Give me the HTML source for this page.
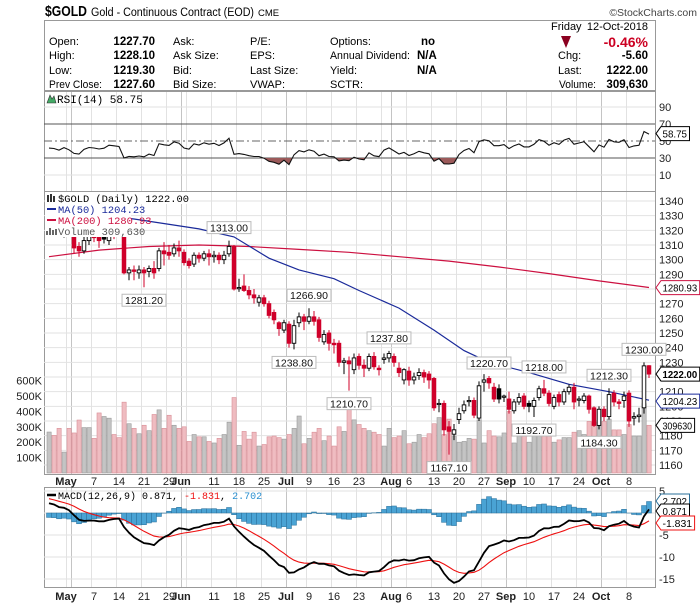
<!DOCTYPE html>
<html><head><meta charset="utf-8"><style>
body{margin:0;background:#fff;}
svg{display:block;font-family:"Liberation Sans",sans-serif;}
</style></head><body>
<svg id="c" width="700" height="603" viewBox="0 0 700 603" xmlns="http://www.w3.org/2000/svg">
<g>
<text x="45" y="16" font-size="15" font-weight="bold" textLength="42" lengthAdjust="spacingAndGlyphs">$GOLD</text>
<text x="91" y="16" font-size="11.5" textLength="163" lengthAdjust="spacingAndGlyphs">Gold - Continuous Contract (EOD)</text>
<text x="258" y="16" font-size="9.5">CME</text>
<text x="697" y="16" font-size="10.5" fill="#444" text-anchor="end">©StockCharts.com</text>
<rect x="44.5" y="20.5" width="611" height="70" fill="none" stroke="#999"/>
<g font-size="11">
<text x="49" y="45">Open:</text><text x="49" y="59">High:</text><text x="49" y="74">Low:</text><text x="49" y="88" textLength="53" lengthAdjust="spacingAndGlyphs">Prev Close:</text>
<g font-weight="bold" text-anchor="end" font-size="11.5"><text x="155" y="45">1227.70</text><text x="155" y="59">1228.10</text><text x="155" y="74">1219.30</text><text x="155" y="88">1227.60</text></g>
<text x="173" y="45">Ask:</text><text x="173" y="59">Ask Size:</text><text x="173" y="74">Bid:</text><text x="173" y="88">Bid Size:</text>
<text x="250" y="45">P/E:</text><text x="250" y="59">EPS:</text><text x="250" y="74">Last Size:</text><text x="250" y="88">VWAP:</text>
<text x="330" y="45">Options:</text><text x="330" y="59" textLength="80" lengthAdjust="spacingAndGlyphs">Annual Dividend:</text><text x="330" y="74">Yield:</text><text x="330" y="88">SCTR:</text>
<g font-weight="bold" font-size="11.5"><text x="435" y="45" text-anchor="end">no</text><text x="417" y="59">N/A</text><text x="417" y="74">N/A</text></g>
<text x="551" y="30">Friday</text><text x="648" y="30" text-anchor="end">12-Oct-2018</text>
<polygon points="561,36 571,36 566,48" fill="#8b0020"/>
<text x="648" y="47" text-anchor="end" font-size="14" font-weight="bold" fill="#cc0022">-0.46%</text>
<text x="558" y="59">Chg:</text><text x="648" y="59" text-anchor="end" font-weight="bold" font-size="11.5">-5.60</text>
<text x="558" y="74">Last:</text><text x="648" y="74" text-anchor="end" font-weight="bold" font-size="11.5">1222.00</text>
<text x="559" y="88" textLength="37" lengthAdjust="spacingAndGlyphs">Volume:</text><text x="648" y="88" text-anchor="end" font-weight="bold" font-size="11.5">309,630</text>
</g></g>
<g id="rsi"></g>
<g id="price"></g>
<g id="macd"></g>
</svg>
<script>
const opens=[1330,1324,1322,1318,1322,1317,1309,1306,1313,1318,1316,1317,1313,1320,1319,1316,1291,1293,1291,1293,1292,1294,1294,1306,1305,1304,1308,1305,1299,1297,1303,1301,1304,1302,1303,1300,1304,1309,1281,1282,1279,1276,1271,1274,1270,1264,1257,1252,1256,1243,1257,1261,1258,1261,1259,1244,1250,1243,1243,1230,1231,1225,1234,1228,1226,1234,1226,1232,1233,1234,1226,1218,1224,1218,1221,1223,1222,1219,1202,1202,1186,1181,1191,1197,1204,1204,1192,1216.5,1219,1213,1212,1207,1205,1197,1203,1207,1202,1200,1206,1212,1209,1200,1208,1203,1210,1213,1205,1204,1207,1199,1187,1198,1193,1209,1203,1204,1209,1192,1193,1199,1227.7];
const highs=[1334,1328,1326,1325,1324,1318,1312,1316,1319,1321,1320,1322,1326,1325,1323,1318,1295,1296,1296,1295,1296,1299,1308,1312,1310,1311,1313,1307,1301,1305,1305,1306,1307,1306,1305,1306,1313,1310,1287,1290,1282,1280,1276,1276,1272,1266,1258,1259,1258,1259,1264,1263,1266.9,1265,1261,1252,1252,1246,1245,1233,1234,1236,1236,1232,1236,1237,1228,1236,1237.8,1236,1230,1226,1227,1223,1226,1225,1224,1220,1205,1204,1190,1188,1199,1204,1207,1206,1217,1222,1220.7,1216,1215,1208,1210,1205,1209,1209,1204,1206,1214,1218,1211,1208,1210,1212,1215,1216,1207,1209,1208,1200,1200,1200,1212.3,1211,1205,1210,1211,1196,1199,1230,1228.1];
const lows=[1318,1320,1317,1315,1316,1304,1302,1304,1310,1312,1308,1311,1310,1314,1316,1290,1286,1286,1287,1281.2,1288,1287,1292,1296,1300,1302,1302,1296,1294,1295,1298,1299,1296,1298,1297,1297,1302,1279,1278,1278,1273,1270,1268,1268,1260,1256,1248,1250,1240,1238.8,1254,1252,1256,1255,1244,1242,1238,1236,1227,1222,1210.7,1222,1225,1220,1224,1225,1221,1229,1230,1227,1220,1215,1214,1215,1218,1216,1212,1197,1196,1180,1167.1,1177,1188,1195,1200,1192,1190,1210,1212,1203,1202,1203,1195,1195,1201,1198,1196,1192.7,1204,1207,1200,1198,1200,1201,1208,1198,1200,1202,1195,1186,1184.3,1190,1191,1200,1198,1199,1186,1187,1189,1195,1219.3];
const closes=[1323,1322,1318,1322,1317,1308,1306,1313,1316,1315,1313,1314,1318,1317,1316,1291,1293,1292,1293,1291,1294,1291,1306,1304,1303,1308,1306,1298,1296,1303,1301,1304,1302,1303,1300,1303,1309,1280,1281,1279,1276,1274,1274,1270,1262,1259,1253,1257,1243,1255,1261,1258,1261,1258,1247,1249,1243,1242,1230,1231,1229,1233,1228,1226,1234,1227,1225,1233,1236,1230,1223,1225,1218,1220,1223,1220,1218,1199,1202,1184,1183,1184,1195,1201,1204,1194,1214,1218,1216,1205,1205,1207,1198,1203,1206,1200,1200,1204,1212,1209,1202,1206,1203,1210,1213,1203,1205,1207,1198,1187,1198,1193,1208,1203,1202,1207,1190,1193,1194,1227.6,1222];
const volumesK=[266,244,290,136,290,260,344,295,295,225,390,367,356,250,230,460,320,290,255,310,275,380,410,290,375,310,290,300,205,250,235,235,205,195,225,250,330,490,180,270,220,265,175,185,235,240,230,220,250,290,370,190,225,265,290,210,240,175,300,270,415,345,315,290,275,265,250,175,290,230,240,275,190,200,250,230,255,320,360,250,350,240,200,205,225,220,345,195,275,240,235,260,400,195,260,260,200,250,260,275,275,200,215,230,230,265,275,250,335,330,340,335,350,280,280,250,315,240,240,450,310];
const ma50Idx=[0,17,30,37,44,50,57,62,70,77,83,88,96,104,112,120];
const ma50Vals=[1334,1327.7,1321,1315.5,1301,1293,1287,1279,1267,1252,1238,1230,1223,1215,1210,1204.2];
const ma200Idx=[0,10,20,30,40,50,60,70,80,90,100,110,120];
const ma200Vals=[1302,1306.5,1309,1310,1309,1307,1305,1302,1299,1295,1290.5,1285.5,1281];
const priceTicks=[1160,1170,1180,1190,1200,1210,1220,1230,1240,1250,1260,1270,1280,1290,1300,1310,1320,1330,1340];
const volTicks=[100,200,300,400,500,600];
const rsiTicks=[10,30,50,70,90];
const macdTicks=[5,0,-5,-10,-15];
const tickIdx=[4,9,14,19,24,27,33,38,43,48,52,57,62,69,72,77,82,87,92,96,101,106,111,116];
const tickText=['May','7','14','21','29','Jun','11','18','25','Jul','9','16','23','Aug','6','13','20','27','Sep','10','17','24','Oct','8'];
const gridIdx=[4,9,14,19,24,28,33,38,43,48,52,57,62,67,72,77,82,87,92,96,101,106,111,116];
const monthIdx=[5,27,48,69,92,111];
const annIdx=[36,19,52,49,60,68,88,80,99,97,112,110,119];
const annText=['1313.00','1281.20','1266.90','1238.80','1210.70','1237.80','1220.70','1167.10','1218.00','1192.70','1212.30','1184.30','1230.00'];
const annAbove=[1,0,1,0,0,1,1,0,1,0,1,0,1];

const NS='http://www.w3.org/2000/svg';
const L=44,R=655;
const X=i=>49+5*i;
const PY=p=>201+(1340-p)*1.4667;
const VY=v=>473-v*0.154;
const RY=r=>141-(r-50)*0.85;
const MY=m=>513-m*4.4;
function mk(parent,tag,attrs,text){const e=document.createElementNS(NS,tag);for(const k in attrs)e.setAttribute(k,attrs[k]);if(text!==undefined)e.textContent=text;parent.appendChild(e);return e;}
const gR=document.getElementById('rsi'),gP=document.getElementById('price'),gM=document.getElementById('macd');
function vgrid(g,y0,y1){
  gridIdx.forEach(i=>{const l=mk(g,'line',{x1:X(i)-2.5,x2:X(i)-2.5,y1:y0,y2:y1,stroke:'#e2e2e2'});
  
  });
  monthIdx.forEach(i=>{const l=mk(g,'line',{x1:X(i)-2.5,x2:X(i)-2.5,y1:y0,y2:y1,stroke:'#c4c4c4'});
  
  });
}
function tag(g,x,y,txt,col,bold,name){
  const w=txt.length*5.1+3;
  const p=mk(g,'path',{d:`M${x},${y} l5,-7 h${w} v14 h-${w} z`,fill:'#fff',stroke:col});
  
  
  const t=mk(g,'text',{x:x+6.5,y:y+4,'font-size':10.5,fill:'#000','font-weight':bold?'bold':'normal',textLength:txt.length*5.1-1,lengthAdjust:'spacingAndGlyphs'},txt);
  
  
}
// ---------- RSI ----------
(function(){
  mk(gR,'rect',{x:L+.5,y:91.5,width:R-L,height:100,fill:'#fff',stroke:'#999'});
  vgrid(gR,92,191);
  rsiTicks.forEach(t=>{
    const l=mk(gR,'line',{x1:L,x2:R,y1:RY(t),y2:RY(t),stroke:(t==70||t==30)?'#555':'#e2e2e2','stroke-dasharray':t==50?'8,3,2,3':'none'});
    if(t==50)l.setAttribute('stroke','#666');
    
    
    const tx=mk(gR,'text',{x:659,y:RY(t)+4,'font-size':11,fill:'#222'},String(t));
    
    
  });
  let ag=3.0,al=4.2;const rsi=[];
  for(let i=0;i<closes.length;i++){
    const d=i?closes[i]-closes[i-1]:0;
    ag=(ag*13+Math.max(d,0))/14;al=(al*13+Math.max(-d,0))/14;
    rsi.push(100-100/(1+ag/al));
  }
  const pts=rsi.map((r,i)=>X(i)+','+RY(r).toFixed(1));
  mk(gR,'clipPath',{id:'below30'});
  mk(document.getElementById('below30'),'rect',{x:L,y:RY(30),width:R-L,height:40});
  const a=mk(gR,'polygon',{points:pts.join(' ')+` ${X(rsi.length-1)},${RY(30)} ${X(0)},${RY(30)}`,fill:'#9c5a5a','clip-path':'url(#below30)'});
  
  
  const pl=mk(gR,'polyline',{points:pts.join(' '),fill:'none',stroke:'#111','stroke-width':1.1});
  
  
  const lg=mk(gR,'text',{x:57,y:103,'font-size':11,'font-family':'Liberation Mono, monospace'},'RSI(14) 58.75');
  
  
  const ic=mk(gR,'path',{d:'M47,103 l3,-8 l2,4 l2,-3 l2,7 z',fill:'#4a6',stroke:'#333','stroke-width':.6});
  
  
  tag(gR,656,RY(58.75),'58.75','#000',false,'rsi-value');
})();
// ---------- PRICE ----------
(function(){
  mk(gP,'rect',{x:L+.5,y:191.5,width:R-L,height:283,fill:'#fff',stroke:'#999'});
  vgrid(gP,192,474);
  priceTicks.forEach(t=>{
    const l=mk(gP,'line',{x1:L,x2:R,y1:PY(t),y2:PY(t),stroke:'#e2e2e2'});
    
    
    const tx=mk(gP,'text',{x:659,y:PY(t)+4,'font-size':11,fill:'#222'},String(t));
    
    
  });
  volTicks.forEach(t=>{
    const tx=mk(gP,'text',{x:42,y:VY(t)+4,'font-size':11,fill:'#222','text-anchor':'end'},t+'K');
    
    
  });
  volumesK.forEach((v,i)=>{
    const down=i>0&&closes[i]<closes[i-1];
    const b=mk(gP,'rect',{x:X(i)-2,y:VY(v),width:4.2,height:473-VY(v),fill:down?'#efbcc1':'#c4c4c4',stroke:down?'#d98e96':'#9a9a9a','stroke-width':.6});
    
    
  });
  const m2=mk(gP,'polyline',{points:ma200Idx.map((k,j)=>X(k)+','+PY(ma200Vals[j]).toFixed(1)).join(' '),fill:'none',stroke:'#cc1040','stroke-width':1.2});
  
  
  const m5=mk(gP,'polyline',{points:ma50Idx.map((k,j)=>X(k)+','+PY(ma50Vals[j]).toFixed(1)).join(' '),fill:'none',stroke:'#1a2a9a','stroke-width':1.2});
  
  
  closes.forEach((c,i)=>{
    const o=opens[i],up=c>=o,down=i>0&&c<closes[i-1];
    const col=down?'#d0002a':'#000';
    const w=mk(gP,'line',{x1:X(i),x2:X(i),y1:PY(highs[i]),y2:PY(lows[i]),stroke:col,'stroke-width':1});
    
    
    const top=PY(Math.max(o,c)),h=Math.max(1.2,Math.abs(PY(o)-PY(c)));
    const b=mk(gP,'rect',{x:X(i)-1.8,y:top,width:3.6,height:h,fill:up?'#fff':col,stroke:col,'stroke-width':.9});
    
    
  });
  annIdx.forEach((k,j)=>{
    const x=X(k),above=annAbove[j];
    const yv=above?PY(highs[k])-5:PY(lows[k])+5;
    const w=annText[j].length*5.7+4,by=above?yv-14:yv+2;
    const g=mk(gP,'g',{});
    
    
    mk(g,'rect',{x:x-w/2,y:by,width:w,height:12,fill:'#fff',stroke:'#bbb'});
    mk(g,'text',{x:x,y:by+10,'font-size':10.5,'text-anchor':'middle',fill:'#111'},annText[j]);
  });
  const lg=mk(gP,'g',{'font-size':10.4,'font-family':'Liberation Mono, monospace'});
  
  
  mk(lg,'rect',{x:45,y:192,width:145,height:12,fill:'#fff'});
  mk(lg,'rect',{x:45,y:204,width:86,height:33,fill:'#fff'});
  mk(lg,'text',{x:58,y:202},'$GOLD (Daily) 1222.00');
  mk(lg,'path',{d:'M48,202 v-7 M51,202 v-8 M54,202 v-6',stroke:'#000','stroke-width':1.6});
  mk(lg,'line',{x1:47,x2:56,y1:209,y2:209,stroke:'#1a2a9a','stroke-width':2});
  mk(lg,'text',{x:58,y:213,fill:'#1a2a9a'},'MA(50) 1204.23');
  mk(lg,'line',{x1:47,x2:56,y1:220,y2:220,stroke:'#cc1040','stroke-width':2});
  mk(lg,'text',{x:58,y:224,fill:'#cc1040'},'MA(200) 1280.93');
  mk(lg,'path',{d:'M47,235 v-4 M50,235 v-7 M53,235 v-5 M56,235 v-6',stroke:'#666','stroke-width':2});
  mk(lg,'text',{x:58,y:235,fill:'#555'},'Volume 309,630');
  tag(gP,656,PY(1280.93),'1280.93','#cc1040',false,'ma200-value');
  tag(gP,656,PY(1222),'1222.00','#000',true,'last-price');
  tag(gP,656,PY(1204.23)+1,'1204.23','#1a2a9a',false,'ma50-value');
  tag(gP,656,VY(309.63),'309630','#000',false,'volume-value');
})();
function dateAxis(y,name){
  tickIdx.forEach((k,j)=>{
    const isM=isNaN(+tickText[j]);
    const t=mk(document.getElementById('c'),'text',{x:X(k)-(isM?3:0),y:y,'font-size':11,'text-anchor':'middle','font-weight':isM?'bold':'normal',fill:'#222'},tickText[j]);
    
    
  });
}
dateAxis(485,'date-label-top');
// ---------- MACD ----------
(function(){
  mk(gM,'rect',{x:L+.5,y:487.5,width:R-L,height:100,fill:'#fff',stroke:'#999'});
  vgrid(gM,488,587);
  macdTicks.forEach(t=>{
    const l=mk(gM,'line',{x1:L,x2:R,y1:MY(t),y2:MY(t),stroke:'#e2e2e2'});
    
    
    const tx=mk(gM,'text',{x:659,y:MY(t)+4,'font-size':11,fill:'#222'},String(t));
    
    
  });
  let e12=1324,e26=1321.5,sig=3.5;const mac=[],sg=[];
  closes.forEach(c=>{e12+= (c-e12)*2/13;e26+=(c-e26)*2/27;const m=e12-e26;sig+=(m-sig)*2/10;mac.push(m);sg.push(sig);});
  mac.forEach((m,i)=>{
    const h=m-sg[i];const y0=MY(0),y1=MY(h);
    const b=mk(gM,'rect',{x:X(i)-2.5,y:Math.min(y0,y1),width:5,height:Math.abs(y1-y0),fill:'#4aa3d4',stroke:'#2a6f99','stroke-width':.5});
    
    
  });
  const sl=mk(gM,'polyline',{points:sg.map((v,i)=>X(i)+','+MY(v).toFixed(1)).join(' '),fill:'none',stroke:'#ee1111','stroke-width':1.1});
  
  
  const ml=mk(gM,'polyline',{points:mac.map((v,i)=>X(i)+','+MY(v).toFixed(1)).join(' '),fill:'none',stroke:'#000','stroke-width':1.8});
  
  
  const lg=mk(gM,'text',{x:58,y:499,'font-size':10,'font-family':'Liberation Mono, monospace'});
  
  
  mk(gM,'line',{x1:47,x2:56,y1:495,y2:495,stroke:'#000','stroke-width':2.5});
  mk(lg,'tspan',{},'MACD(12,26,9) 0.871, ');
  mk(lg,'tspan',{fill:'#ee1111'},'-1.831');
  mk(lg,'tspan',{},', ');
  mk(lg,'tspan',{fill:'#2a8fd0'},'2.702');
  tag(gM,656,501,'2.702','#2a6f99',false,'macd-hist-value');
  tag(gM,656,511,'0.871','#000',false,'macd-value');
  tag(gM,656,523,'-1.831','#ee1111',false,'macd-signal-value');
})();
dateAxis(600,'date-label-bottom');
</script>
</body></html>
